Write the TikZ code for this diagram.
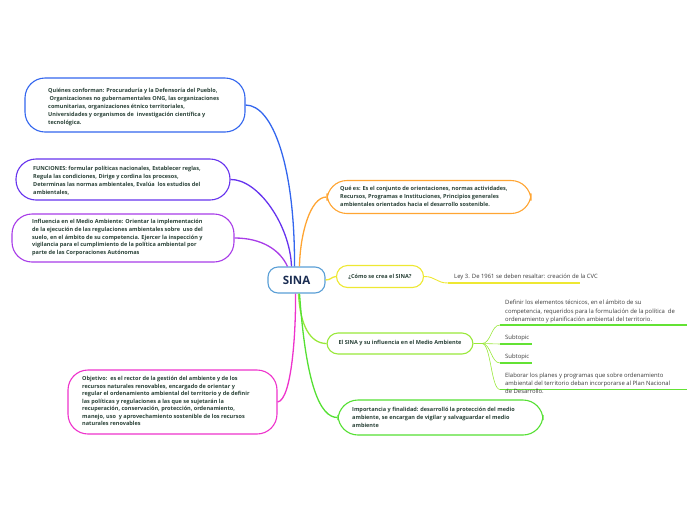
\documentclass[tikz,border=0pt]{standalone}
\usepackage{fontspec}
\setmainfont{Open Sans}
\definecolor{cblue}{HTML}{3366EE}
\definecolor{cindigo}{HTML}{6633EE}
\definecolor{cviolet}{HTML}{A83CE8}
\definecolor{cmagenta}{HTML}{EE33CC}
\definecolor{corange}{HTML}{FFA533}
\definecolor{cyellow}{HTML}{EEE833}
\definecolor{clime}{HTML}{99E83A}
\definecolor{cgreen}{HTML}{55E033}
\definecolor{csina}{HTML}{5A9FD6}
\definecolor{ctxt}{HTML}{2A4238}
\definecolor{csub}{HTML}{3A3A3A}
\definecolor{cnavy}{HTML}{1B2D52}
\tikzset{
  topic/.style={draw=#1, line width=1.1pt, rounded corners=11pt, fill=white, inner sep=0pt},
  bigtopic/.style={draw=#1, line width=1.1pt, rounded corners=20pt, fill=white, inner sep=0pt},
  tt/.style={text=ctxt, font=\fontsize{5.55}{8}\selectfont\bfseries, align=left, inner sep=0pt, anchor=north west},
  st/.style={text=csub, font=\fontsize{5.9}{8.4}\selectfont, align=left, inner sep=0pt, anchor=north west},
  conn/.style={draw=#1, line width=1.3pt},
  thin/.style={draw=#1, line width=0.6pt},
  uline/.style={draw=#1, line width=1.3pt},
}
\begin{document}
\begin{tikzpicture}[x=1pt,y=-1pt]
\useasboundingbox (0,0) rectangle (696,520);

% central node
\node[draw=csina, line width=1.1pt, rounded corners=10pt, fill=white, minimum width=57pt, minimum height=26pt, text=cnavy, font=\fontsize{11.5}{13}\selectfont\bfseries] (sina) at (296.5,280) {SINA};

% boxes
\node[bigtopic=cblue, minimum width=220pt, minimum height=54pt] (n1) at (135,105) {};
\node[bigtopic=cindigo, minimum width=214pt, minimum height=41pt] (n2) at (123,179.5) {};
\node[bigtopic=cviolet, minimum width=222pt, minimum height=48pt] (n3) at (123,238) {};
\node[bigtopic=cmagenta, minimum width=209pt, minimum height=64pt] (n4) at (172.5,402) {};
\node[bigtopic=corange, minimum width=204pt, minimum height=33pt] (n5) at (429,197) {};
\node[topic=cyellow, minimum width=87pt, minimum height=22pt] (n6) at (380,276.5) {};
\node[topic=clime, minimum width=146pt, minimum height=21pt] (n7) at (400,343.5) {};
\node[bigtopic=cgreen, minimum width=205pt, minimum height=35pt] (n8) at (440.5,417.5) {};

% texts
\node[tt] (t1) at (48,88.5) {Quiénes conforman: Procuraduría y la Defensoría del Pueblo,\\
\ Organizaciones no gubernamentales ONG, las organizaciones\\
comunitarias, organizaciones étnico territoriales,\\
Universidades y organismos de\ \ investigación científica y\\
tecnológica.};
\node[tt] (t2) at (33,166.5) {FUNCIONES: formular políticas nacionales, Establecer reglas,\\
Regula las condiciones, Dirige y cordina los procesos,\\
Determinas las normas ambientales, Evalúa\ \ los estudios del\\
ambientales,};
\node[tt, font=\fontsize{5.55}{7.6}\selectfont\bfseries] (t3) at (32,219.5) {Influencia en el Medio Ambiente: Orientar la implementación\\
de la ejecución de las regulaciones ambientales sobre\ \ uso del\\
suelo, en el ámbito de su competencia. Ejercer la inspección y\\
vigilancia para el cumplimiento de la política ambiental por\\
parte de las Corporaciones Autónomas};
\node[tt, font=\fontsize{5.55}{7.5}\selectfont\bfseries] (t4) at (82,376.5) {Objetivo:\ \ es el rector de la gestión del ambiente y de los\\
recursos naturales renovables, encargado de orientar y\\
regular el ordenamiento ambiental del territorio y de definir\\
las políticas y regulaciones a las que se sujetarán la\\
recuperación, conservación, protección, ordenamiento,\\
manejo, uso\ \ y aprovechamiento sostenible de los recursos\\
naturales renovables};
\node[tt, font=\fontsize{5.55}{7.8}\selectfont\bfseries] (t5) at (340,186.5) {Qué es: Es el conjunto de orientaciones, normas actividades,\\
Recursos, Programas e Instituciones, Principios generales\\
ambientales orientados hacia el desarrollo sostenible.};
\node[tt, anchor=center] (t6) at (n6.center) {¿Cómo se crea el SINA?};
\node[tt, anchor=center] (t7) at (n7.center) {El SINA y su influencia en el Medio Ambiente};
\node[tt] (t8) at (352,407.5) {Importancia y finalidad: desarrolló la protección del medio\\
ambiente, se encargan de vigilar y salvaguardar el medio\\
ambiente};

% main connectors
\draw[conn=cblue] (n1.east) .. controls (273,105) and (295,167) .. ([xshift=-2pt]sina.north);
\draw[conn=cindigo] (n2.east) .. controls (258,179) and (290,225) .. ([xshift=-5pt]sina.north);
\draw[conn=cviolet] (n3.east) .. controls (262,238) and (280,250) .. ([xshift=-9pt]sina.north);
\draw[conn=corange] (n5.west) .. controls (310,197) and (300,235) .. ([xshift=3pt]sina.north);
\draw[conn=cmagenta] (n4.east) .. controls (292,400) and (296,330) .. ([xshift=-1pt]sina.south);
\draw[conn=clime] ([xshift=2pt]sina.south) .. controls (300,325) and (310,343.5) .. (n7.west);
\draw[conn=cgreen] ([xshift=3pt]sina.south) .. controls (306,385) and (320,417.5) .. (n8.west);
\draw[conn=cyellow] (sina.east) .. controls (331,280) and (331,277) .. (n6.west);

% yellow subtopic
\coordinate (y1) at (448,283);
\coordinate (y2) at (580,283);
\node[st, anchor=base west] (s0) at (454,278) {Ley 3. De 1961 se deben resaltar: creación de la CVC};
\draw[thin=cyellow, line width=0.9pt] (n6.east) .. controls (436,276.5) and (436,283) .. (y1);
\draw[uline=cyellow] (y1) -- (y2);

% lime subtopics
\coordinate (b0) at (482,343.5);
\coordinate (u1a) at (500,325); \coordinate (u1b) at (687,325);
\coordinate (u2a) at (500,344); \coordinate (u2b) at (532,344);
\coordinate (u3a) at (500,363); \coordinate (u3b) at (532,363);
\coordinate (u4a) at (500,389.5); \coordinate (u4b) at (687,389.5);
\draw[thin=clime] (n7.east) -- (b0);
\draw[thin=clime] (b0) .. controls (491,343.5) and (491,325) .. (u1a);
\draw[thin=clime] (b0) .. controls (491,343.5) and (491,344) .. (u2a);
\draw[thin=clime] (b0) .. controls (491,343.5) and (491,363) .. (u3a);
\draw[thin=clime] (b0) .. controls (491,343.5) and (491,389.5) .. (u4a);
\draw[uline=cgreen!80!clime] (u1a) -- (u1b);
\draw[uline=cgreen!80!clime] (u2a) -- (u2b);
\draw[uline=cgreen!80!clime] (u3a) -- (u3b);
\draw[uline=cgreen!80!clime] (u4a) -- (u4b);
\node[st] (s1) at (505,300) {Definir los elementos técnicos, en el ámbito de su\\
competencia, requeridos para la formulación de la política\ \ de\\
ordenamiento y planificación ambiental del territorio.};
\node[st] (s2) at (505,334.5) {Subtopic};
\node[st] (s3) at (505,353.5) {Subtopic};
\node[st] (s4) at (505,372.5) {Elaborar los planes y programas que sobre ordenamiento\\
ambiental del territorio deban incorporarse al Plan Nacional\\
de Desarrollo.};
\end{tikzpicture}
\end{document}
